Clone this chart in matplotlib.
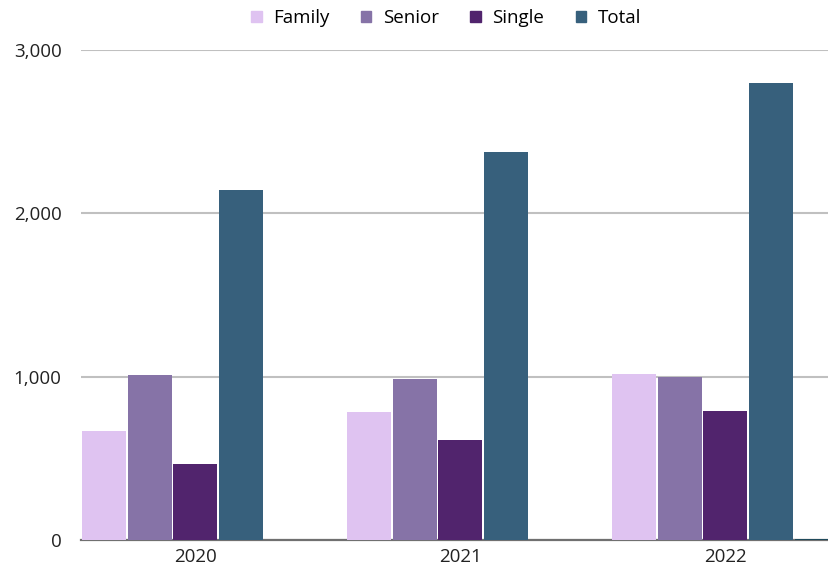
import numpy as np
import matplotlib.pyplot as plt
from matplotlib.patches import Patch

plt.rcParams['font.family'] = ['Open Sans', 'DejaVu Sans']

years = ['2020', '2021', '2022']
family = [665, 786, 1015]
senior = [1010, 984, 996]
single = [465, 612, 788]
total = [2143, 2378, 2800]
other = [0, 0, 5]   # near-zero fifth series, not in legend

series = [('Family', family, '#dfc3f1'),
          ('Senior', senior, '#8673a7'),
          ('Single', single, '#51246d'),
          ('Total', total, '#37607c'),
          (None, other, '#1f4a5c')]

fig = plt.figure(figsize=(8.29, 5.71), dpi=100)
ax = fig.add_axes([81 / 829, 31 / 571, 1 - 81 / 829, (540 - 50) / 571])

x = np.arange(len(years))
pitch = 45.7 / 265
width = 44 / 265
for i, (name, vals, col) in enumerate(series):
    ax.bar(x + (i - 2) * pitch, vals, width, color=col, zorder=3)

ax.set_ylim(0, 3000)
ax.set_xlim(-2.5 * pitch, -2.5 * pitch + (829 - 81) / 265)
ax.set_yticks([0, 1000, 2000, 3000])
ax.set_yticklabels(['0', '1,000', '2,000', '3,000'])
ax.set_xticks(x)
ax.set_xticklabels(years)
ax.tick_params(length=0, labelsize=13.5, colors='#222222')
ax.tick_params(axis='y', pad=14)
ax.tick_params(axis='x', pad=6)
ax.grid(axis='y', color='#c0c0c0', linewidth=1.5, zorder=0)
for s in ['top', 'right', 'left']:
    ax.spines[s].set_visible(False)
ax.spines['bottom'].set_color('#707070')
ax.spines['bottom'].set_linewidth(1.6)
ax.spines['bottom'].set_zorder(2)

handles = [Patch(color=c, label=n) for n, v, c in series if n]
fig.legend(handles=handles, loc='center', bbox_to_anchor=(446 / 829, 1 - 18 / 571),
           ncol=4, frameon=False, fontsize=13.5, handlelength=0.55, handleheight=0.55,
           handletextpad=0.6, columnspacing=1.7)

plt.savefig('out.png', dpi=100)
